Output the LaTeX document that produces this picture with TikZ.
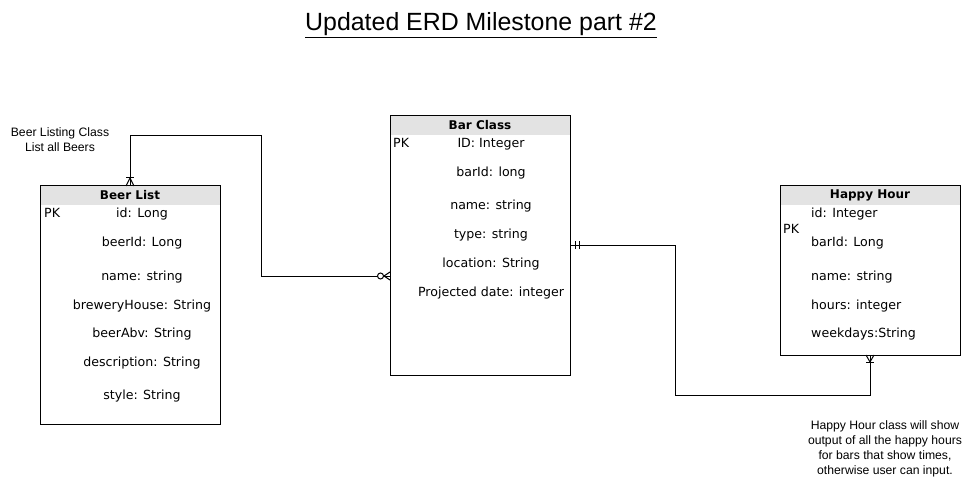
\documentclass[tikz,border=0pt]{standalone}
\usepackage{fontspec}
\setmainfont{DejaVu Sans}
\newfontfamily\arialf{Liberation Sans}
\definecolor{hdr}{RGB}{227,227,227}
\begin{document}
\begin{tikzpicture}[x=1pt,y=-1pt,
  conn/.style={line width=1pt,black},
  entity/.style={draw=black,line width=1pt,inner sep=0pt,outer sep=0pt,anchor=north west},
  hdrbox/.style={fill=hdr,inner sep=0pt,outer sep=0pt,anchor=north west,minimum height=19pt,font=\fontsize{12}{14}\selectfont\bfseries},
  row/.style={inner sep=0pt,text height=0.75em,text depth=0.25em,font=\fontsize{12.6}{15}\selectfont},
  lrow/.style={row,anchor=west},
  note/.style={inner sep=0pt,align=center,font=\arialf\fontsize{12.2}{15}\selectfont}
]
\useasboundingbox (0,0) rectangle (971,486);
% title
\node[inner sep=0pt,font=\arialf\fontsize{24.9}{28}\selectfont] (title) at (481,25) {\underline{Updated ERD Milestone part \#2}};

% Beer List
\node[hdrbox,minimum width=180pt] (beerh) at (40,186) {Beer List};
\node[entity,minimum width=180pt,minimum height=238pt] (beer) at (40,186) {};
\node[lrow] (bpk) at (44,215.5) {PK};
\node[row] (b1) at (142,215.5) {id: Long};
\node[row] (b2) at (142,244.5) {beerId: Long};
\node[row] (b3) at (142,277.5) {name: string};
\node[row] (b4) at (142,306.5) {breweryHouse: String};
\node[row] (b5) at (142,334.5) {beerAbv: String};
\node[row] (b6) at (142,363.5) {description: String};
\node[row] (b7) at (142,396.5) {style: String};

% Bar Class
\node[hdrbox,minimum width=180pt] (barh) at (390,116) {Bar Class};
\node[entity,minimum width=180pt,minimum height=259pt] (bar) at (390,116) {};
\node[lrow] (rpk) at (393,145.5) {PK};
\node[row] (r1) at (491,145.5) {ID: Integer};
\node[row] (r2) at (491,174.5) {barId: long};
\node[row] (r3) at (491,207.5) {name: string};
\node[row] (r4) at (491,236.5) {type: string};
\node[row] (r5) at (491,264.5) {location: String};
\node[row] (r6) at (491,293.5) {Projected date: integer};

% Happy Hour
\node[hdrbox,minimum width=180pt] (hhh) at (780,186) {Happy Hour};
\node[entity,minimum width=180pt,minimum height=169pt] (hh) at (780,186) {};
\node[lrow] (hpk) at (783,231.5) {PK};
\node[lrow] (h1) at (811,215.5) {id: Integer};
\node[lrow] (h2) at (811,244.5) {barId: Long};
\node[lrow] (h3) at (811,277.5) {name: string};
\node[lrow] (h4) at (811,306.5) {hours: integer};
\node[lrow] (h5) at (811,334.5) {weekdays:String};

% notes
\node[note] (n1) at (60,140) {Beer Listing Class\\List all Beers};
\node[note] (n2) at (885,449) {Happy Hour class will show\\output of all the happy hours\\for bars that show times,\\otherwise user can input.};

% connector 1: Beer List -- Bar Class
\coordinate (c1a) at (261,136);
\coordinate (c1b) at (261,276);
\coordinate (m1) at (c1b -| bar.west);
\draw[conn] (beer.north) |- (c1a) -- (c1b) -- (m1);
% one-or-many at Beer List
\draw[conn] ([shift={(-4,0)}]beer.north) -- ([shift={(0,-8)}]beer.north) -- ([shift={(4,0)}]beer.north);
\draw[conn] ([shift={(-4,-8)}]beer.north) -- ([shift={(4,-8)}]beer.north);
% zero-or-many at Bar Class
\draw[conn] ([shift={(0,-4)}]m1) -- ([shift={(-6,0)}]m1) -- ([shift={(0,4)}]m1);
\draw[conn,fill=white] ([shift={(-9.5,0)}]m1) circle (3pt);

% connector 2: Bar Class -- Happy Hour
\coordinate (c2a) at (675,395);
\draw[conn] (bar.east) -| (c2a) -| (hh.south);
% one-and-only-one at Bar Class
\draw[conn] ([shift={(5,-4)}]bar.east) -- ([shift={(5,4)}]bar.east);
\draw[conn] ([shift={(9,-4)}]bar.east) -- ([shift={(9,4)}]bar.east);
% one-or-many at Happy Hour
\draw[conn] ([shift={(-4,0)}]hh.south) -- ([shift={(0,7)}]hh.south) -- ([shift={(4,0)}]hh.south);
\draw[conn] ([shift={(-4,7)}]hh.south) -- ([shift={(4,7)}]hh.south);
\end{tikzpicture}
\end{document}
